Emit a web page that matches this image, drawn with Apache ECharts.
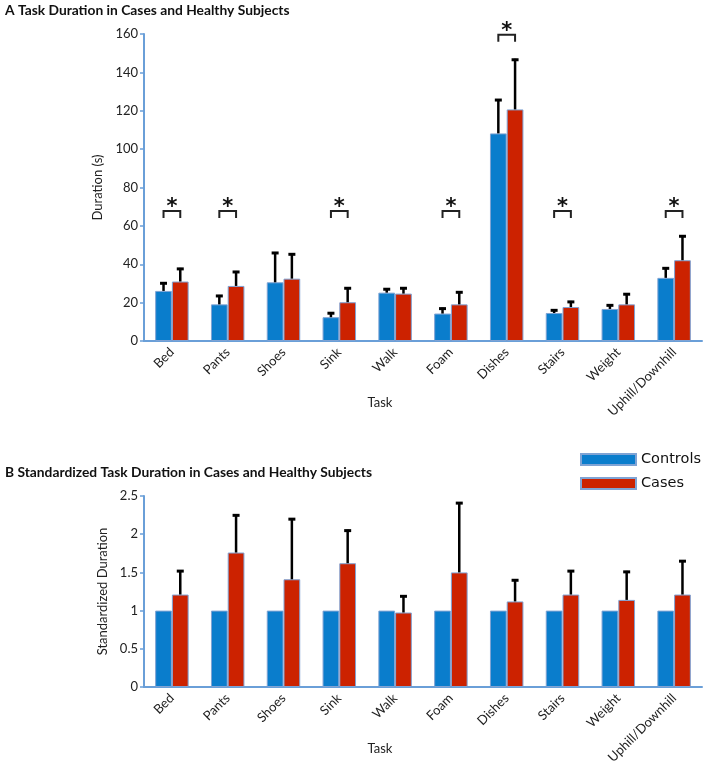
<!DOCTYPE html>
<html><head><meta charset="utf-8">
<script src="https://cdn.jsdelivr.net/npm/echarts@6/dist/echarts.min.js"></script>
<style>html,body{margin:0;padding:0;background:#fff}#c{width:707px;height:771px}</style>
</head><body><div id="c"></div>
<script>
const tasks = ['Bed','Pants','Shoes','Sink','Walk','Foam','Dishes','Stairs','Weight','Uphill/Downhill'];
// Panel A: durations (s) and upper ends of error bars
const durControls    = [26.1, 19.1, 30.6, 12.4, 25.2, 14.3, 108.2, 14.6, 16.7, 32.9];
const durControlsTop = [30.6, 24.0, 46.4, 15.0, 27.5, 17.4, 126.1, 16.5, 19.1, 38.4];
const durCases       = [31.0, 28.7, 32.5, 20.2, 24.7, 19.1, 120.7, 17.7, 19.1, 42.1];
const durCasesTop    = [38.1, 36.5, 45.7, 28.0, 28.0, 25.9, 147.1, 20.9, 24.9, 55.1];
const sigTasks  = [0, 1, 3, 5, 6, 7, 9];
const sigLevels = [67.8, 67.8, 67.8, 67.8, 159.6, 67.8, 67.8];
// Panel B: standardized durations
const stdControls = [1, 1, 1, 1, 1, 1, 1, 1, 1, 1];
const stdCases    = [1.21, 1.76, 1.41, 1.62, 0.975, 1.50, 1.12, 1.21, 1.14, 1.21];
const stdCasesTop = [1.53, 2.26, 2.21, 2.06, 1.20, 2.42, 1.41, 1.53, 1.52, 1.66];
const yTicksA = [0, 20, 40, 60, 80, 100, 120, 140, 160];
const yTicksB = [0, 0.5, 1, 1.5, 2, 2.5];

const BLUE = '#0a7dcc', RED = '#cc2200', AXIS = '#6a9fd8';
const FONT = 'Lato';
const LFONT = 'DejaVu Sans';

const chart = echarts.init(document.getElementById('c'));

function errRender(params, api) {
  const i = api.value(0);
  const p0 = api.coord([i, api.value(1)]);
  const p1 = api.coord([i, api.value(2)]);
  const band = api.size([1, 0])[0];
  const bw = band * 0.6 / 2;
  const x = p0[0] + api.value(3) * bw / 2;
  return {type: 'group', children: [
    {type: 'line', shape: {x1: x, y1: p0[1], x2: x, y2: p1[1]}, style: {stroke: '#000', lineWidth: 2.5}},
    {type: 'line', shape: {x1: x - 3.5, y1: p1[1] + 1, x2: x + 3.5, y2: p1[1] + 1}, style: {stroke: '#000', lineWidth: 3}}
  ]};
}
function sigRender(params, api) {
  const i = api.value(0);
  const p = api.coord([i, api.value(1)]);
  const band = api.size([1, 0])[0];
  const bw = band * 0.6 / 2;
  const x1 = p[0] - bw / 2, x2 = p[0] + bw / 2;
  return {type: 'group', children: [
    {type: 'polyline', shape: {points: [[x1, p[1] + 7], [x1, p[1]], [x2, p[1]], [x2, p[1] + 7]]}, style: {stroke: '#222', lineWidth: 2, fill: null}},
    {type: 'text', x: p[0], y: p[1] - 3, style: {text: '*', font: 'bold 21px DejaVu Sans', fill: '#111', align: 'center', verticalAlign: 'middle'}}
  ]};
}

const xAxisCommon = {
  type: 'category', data: tasks,
  axisLine: {lineStyle: {color: AXIS, width: 2}},
  axisTick: {show: false},
  axisLabel: {rotate: 45, color: '#222', fontFamily: FONT, fontSize: 13, margin: 9, interval: 0},
  name: 'Task', nameLocation: 'middle', nameGap: 55, nameMoveOverlap: false,
  nameTextStyle: {color: '#222', fontFamily: FONT, fontSize: 13, padding: [0, 86, 0, 0]}
};
const yAxisCommon = {
  type: 'value',
  splitLine: {show: false},
  axisLine: {show: true, lineStyle: {color: AXIS, width: 2}},
  axisTick: {show: true, length: 4, lineStyle: {color: AXIS, width: 1.5}},
  axisLabel: {color: '#222', fontFamily: FONT, fontSize: 13, margin: 6},
  nameLocation: 'middle', nameMoveOverlap: false,
  nameTextStyle: {color: '#222', fontFamily: FONT, fontSize: 13}
};
const barStyle = (c) => ({color: c, borderColor: '#7fa3d4', borderWidth: 1});

chart.setOption({
  animation: false,
  textStyle: {fontFamily: FONT},
  title: [
    {text: 'A Task Duration in Cases and Healthy Subjects', left: 0, top: -1,
     textStyle: {fontFamily: 'Lato', fontWeight: 'bold', fontSize: 13.8, color: '#111'}},
    {text: 'B Standardized Task Duration in Cases and Healthy Subjects', left: 0, top: 461,
     textStyle: {fontFamily: 'Lato', fontWeight: 'bold', fontSize: 13.8, color: '#111'}}
  ],
  legend: {
    data: ['Controls', 'Cases'], orient: 'vertical', left: 575, top: 447,
    icon: 'rect', itemWidth: 55, itemHeight: 11, itemGap: 9,
    textStyle: {fontFamily: LFONT, fontSize: 14.5, color: '#111'}
  },
  grid: [
    {left: 144, right: 5, top: 34, height: 307},
    {left: 144, right: 5, top: 496, height: 191}
  ],
  xAxis: [
    Object.assign({gridIndex: 0}, xAxisCommon),
    Object.assign({gridIndex: 1}, xAxisCommon)
  ],
  yAxis: [
    Object.assign({gridIndex: 0, min: yTicksA[0], max: yTicksA[yTicksA.length - 1], interval: 20,
      name: 'Duration (s)', nameGap: 40}, yAxisCommon),
    Object.assign({gridIndex: 1, min: yTicksB[0], max: yTicksB[yTicksB.length - 1], interval: 0.5,
      name: 'Standardized Duration', nameGap: 35}, yAxisCommon)
  ],
  series: [
    {name: 'Controls', type: 'bar', xAxisIndex: 0, yAxisIndex: 0, data: durControls, barGap: '0%', barCategoryGap: '40%', itemStyle: barStyle(BLUE)},
    {name: 'Cases', type: 'bar', xAxisIndex: 0, yAxisIndex: 0, data: durCases, barGap: '0%', barCategoryGap: '40%', itemStyle: barStyle(RED)},
    {name: 'Controls', type: 'bar', xAxisIndex: 1, yAxisIndex: 1, data: stdControls, barGap: '0%', barCategoryGap: '40%', itemStyle: barStyle(BLUE)},
    {name: 'Cases', type: 'bar', xAxisIndex: 1, yAxisIndex: 1, data: stdCases, barGap: '0%', barCategoryGap: '40%', itemStyle: barStyle(RED)},
    {type: 'custom', xAxisIndex: 0, yAxisIndex: 0, renderItem: errRender, clip: false, z: 5,
     data: tasks.map((t, i) => [i, durControls[i], durControlsTop[i], -1]).concat(tasks.map((t, i) => [i, durCases[i], durCasesTop[i], 1])),
     encode: {x: 0, y: 2}},
    {type: 'custom', xAxisIndex: 1, yAxisIndex: 1, renderItem: errRender, clip: false, z: 5,
     data: tasks.map((t, i) => [i, stdCases[i], stdCasesTop[i], 1]), encode: {x: 0, y: 2}},
    {type: 'custom', xAxisIndex: 0, yAxisIndex: 0, renderItem: sigRender, clip: false, z: 5,
     data: sigTasks.map((t, k) => [t, sigLevels[k]]), encode: {x: 0, y: 1}}
  ]
});
</script></body></html>
